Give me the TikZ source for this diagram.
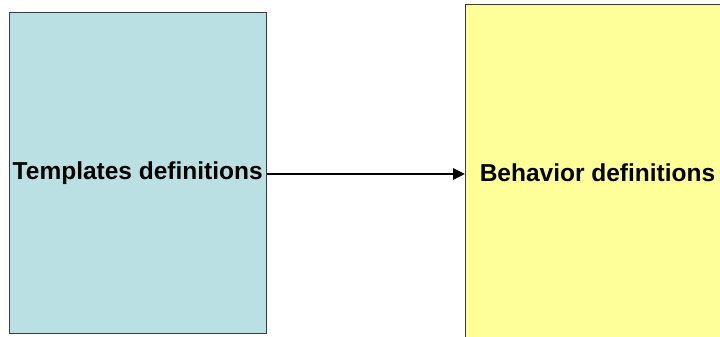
\documentclass[tikz,border=0pt]{standalone}
\usepackage{fontspec}
\setmainfont{Liberation Sans}
\usepackage{xcolor}
\usetikzlibrary{arrows.meta,positioning}
\definecolor{tplBlue}{RGB}{187,224,227}
\definecolor{behYellow}{RGB}{255,255,153}
\definecolor{edgeGray}{RGB}{60,60,60}

\begin{document}
\begin{tikzpicture}[
    x=1pt, y=-1pt,
    box/.style={rectangle, draw=edgeGray, line width=1pt, inner sep=0pt,
        font=\fontsize{24.5}{28}\selectfont\bfseries},
    arrow/.style={-{Triangle[length=12pt,width=11pt]}, line width=2.8pt}
]
    \useasboundingbox (0,0) rectangle (720,337);
    \node[box, fill=tplBlue, minimum width=256.5pt, minimum height=320pt] (templates) at (137.75,173) {Templates definitions};
    \node[box, fill=behYellow, minimum width=264pt, minimum height=337pt] (behavior) at (597.5,173) {Behavior definitions};

    \draw[arrow] (templates.east |- 0,174) -- (behavior.west |- 0,174);
\end{tikzpicture}
\end{document}
